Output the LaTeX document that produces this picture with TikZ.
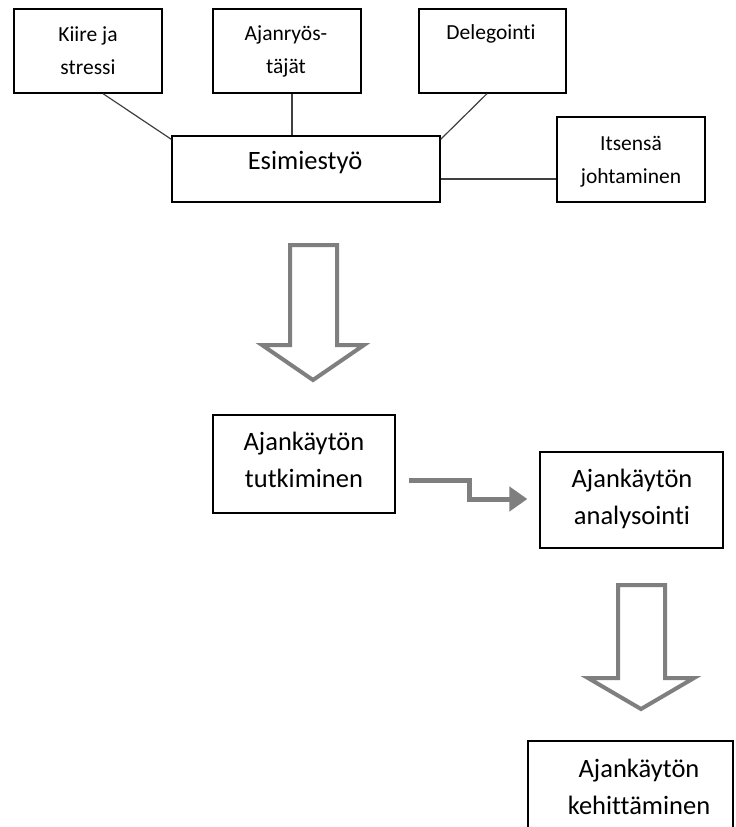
\documentclass[tikz,border=0pt]{standalone}
\usepackage{fontspec}
\setmainfont{Carlito}[Ligatures=NoCommon]
\usetikzlibrary{arrows.meta}
\definecolor{arrowgray}{HTML}{7F7F7F}
\definecolor{linegray}{HTML}{404040}
\tikzset{
  box/.style={draw=black, line width=1.3bp, rectangle, inner sep=0pt},
  smalltxt/.style={anchor=north, align=center, inner sep=0pt, font=\fontsize{21.5bp}{33bp}\selectfont},
  bigtxt/.style={anchor=north, align=center, inner sep=0pt, font=\fontsize{26.5bp}{37bp}\selectfont},
  link/.style={draw=linegray, line width=1.2bp},
  blockarrow/.style={draw=arrowgray, line width=4bp, fill=white, line join=miter},
  elbow/.style={draw=arrowgray, line width=5bp, -{Triangle[length=18bp,width=24bp]}}
}
\newcommand{\sst}{\rule{0pt}{17bp}}
\newcommand{\bst}{\rule{0pt}{20bp}}
\begin{document}
\begin{tikzpicture}[x=1bp,y=-1bp]
\useasboundingbox (0,0) rectangle (736,827);
\fill[white] (0,0) rectangle (736,827);
\clip (0,0) rectangle (736,827);
% boxes
\node[box, minimum width=148bp, minimum height=84bp] (kiire) at (88,51) {};
\node[box, minimum width=148bp, minimum height=84bp] (ajan) at (287,51) {};
\node[box, minimum width=147bp, minimum height=84bp] (deleg) at (492.5,51) {};
\node[box, minimum width=148bp, minimum height=85bp] (itse) at (631,159.5) {};
\node[box, minimum width=268bp, minimum height=66bp] (esim) at (306,169) {};
\node[box, minimum width=182bp, minimum height=98bp] (tut) at (304,464) {};
\node[box, minimum width=183bp, minimum height=96bp] (anal) at (631.5,500) {};
\node[box, minimum width=205bp, minimum height=110bp] (keh) at (630.5,796) {};
% texts
\node[smalltxt] (kiiret) at (88,24) {\sst Kiire ja\\stressi};
\node[smalltxt] (ajant) at (286,23) {\sst Ajanryös-\\täjät};
\node[smalltxt] (delegt) at (491,22) {\sst Delegointi};
\node[smalltxt] (itset) at (631,133) {\sst Itsensä\\johtaminen};
\node[bigtxt] (esimt) at (305,149) {\bst Esimiestyö};
\node[bigtxt] (tutt) at (304,430) {\bst Ajankäytön\\tutkiminen};
\node[bigtxt] (analt) at (632,467) {\bst Ajankäytön\\analysointi};
\node[bigtxt] (keht) at (639,757) {\bst Ajankäytön\\kehittäminen};
% connectors
\draw[link] ([xshift=15bp]kiire.south) -- ([yshift=-4bp]esim.north west);
\draw[link] ([xshift=5bp]ajan.south) -- ([xshift=5bp]ajan.south |- esim.north);
\draw[link] ([xshift=-5.5bp]deleg.south) -- ([yshift=-4bp]esim.north east);
\draw[link] ([yshift=-10bp]esim.east) -- ([yshift=-10bp]esim.east -| itse.west);
% block arrows
\draw[blockarrow] (290,245) -- (337,245) -- (337,345) -- (364,345) -- (313,380) -- (262,345) -- (290,345) -- cycle;
\draw[blockarrow] (618,585) -- (665,585) -- (665,678) -- (694,678) -- (641,709) -- (588,678) -- (618,678) -- cycle;
% elbow arrow
\coordinate (es) at ([xshift=13bp,yshift=-16bp]tut.east);
\coordinate (ee) at ([xshift=-12bp,yshift=1bp]anal.west);
\draw[elbow] (es) -- (es -| 469,0) -- (469,499) -- (ee);
\end{tikzpicture}
\end{document}
